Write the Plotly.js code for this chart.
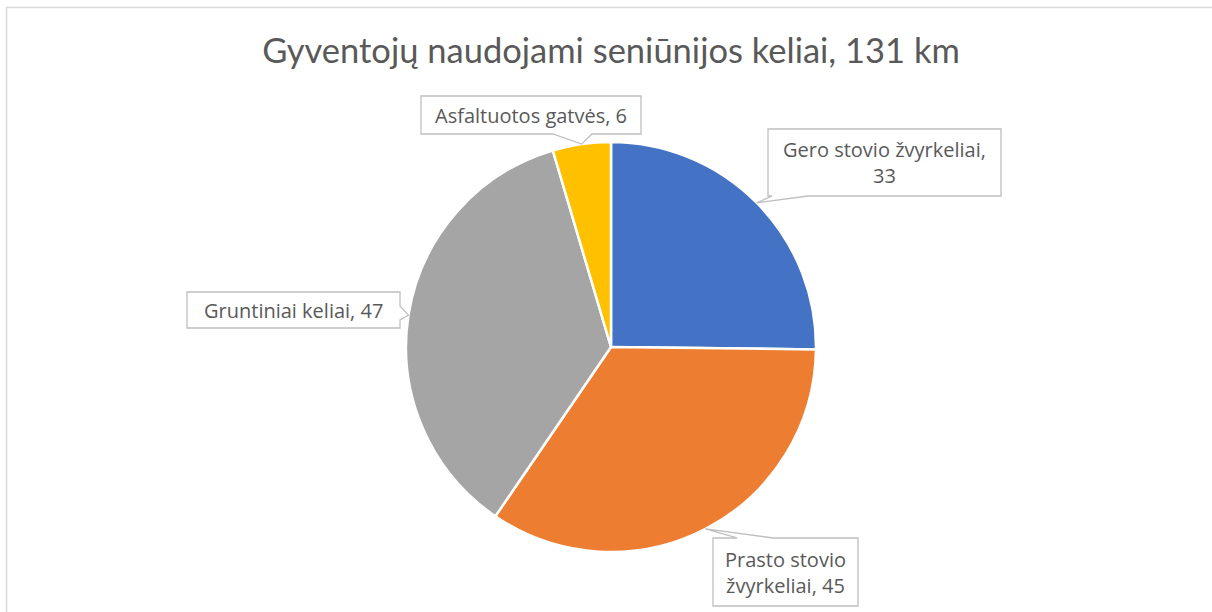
<!DOCTYPE html>
<html>
<head>
<meta charset="utf-8">
<script src="https://cdn.plot.ly/plotly-3.0.1.min.js"></script>
<style>html,body{margin:0;padding:0;background:#fff;}#chart{width:1212px;height:612px;}</style>
</head>
<body>
<div id="chart"></div>
<script>
const chartTitle = 'Gyventojų naudojami seniūnijos keliai, 131 km';
const labels = ['Gero stovio žvyrkeliai', 'Prasto stovio žvyrkeliai', 'Gruntiniai keliai', 'Asfaltuotos gatvės'];
const values = [33, 45, 47, 6];
const colors = ['#4472C4', '#ED7D31', '#A5A5A5', '#FFC000'];

const W = 1212, H = 612;
const cx = 611, cy = 347, R = 205;
// callout boxes (pixel layout): box rect, wrap width (chars), side where pointer attaches, base offsets
const callouts = [
  {x0: 768, x1: 1001, y0: 129, y1: 196, wrap: 24, side: 'bottom', b0: 772, b1: 808},
  {x0: 713, x1: 858, y0: 538, y1: 606, wrap: 14, side: 'top', b0: 737, b1: 773},
  {x0: 187, x1: 400, y0: 292, y1: 328, wrap: 40, side: 'right', b0: 306, b1: 320},
  {x0: 421, x1: 641, y0: 96, y1: 134, wrap: 40, side: 'bottom', b0: 553, b1: 592}
];

function px(x) { return x / W; }
function py(y) { return 1 - y / H; }
function wrap(text, n) {
  const words = text.split(' ');
  const lines = []; let cur = '';
  words.forEach(w => {
    if (cur && (cur + ' ' + w).length > n) { lines.push(cur); cur = w; }
    else cur = cur ? cur + ' ' + w : w;
  });
  if (cur) lines.push(cur);
  return lines.join('<br>');
}

const total = values.reduce((a, b) => a + b, 0);
let cum = 0;
const shapes = [{type: 'rect', xref: 'paper', yref: 'paper', x0: px(6.5), x1: px(1230), y0: py(7.5), y1: py(640),
  line: {color: '#D9D9D9', width: 1.5}, fillcolor: 'rgba(0,0,0,0)', layer: 'below'}];
const annotations = [];
values.forEach((v, i) => {
  const mid = (cum + v / 2) / total * 2 * Math.PI; cum += v;
  const tx = cx + R * Math.sin(mid), ty = cy - R * Math.cos(mid);
  const c = callouts[i];
  let path;
  if (c.side === 'bottom') {
    path = `M${c.x0},${c.y0} L${c.x1},${c.y0} L${c.x1},${c.y1} L${c.b1},${c.y1} L${tx},${ty} L${c.b0},${c.y1} L${c.x0},${c.y1} Z`;
  } else if (c.side === 'top') {
    path = `M${c.x0},${c.y0} L${c.b0},${c.y0} L${tx},${ty} L${c.b1},${c.y0} L${c.x1},${c.y0} L${c.x1},${c.y1} L${c.x0},${c.y1} Z`;
  } else {
    path = `M${c.x0},${c.y0} L${c.x1},${c.y0} L${c.x1},${c.b0} L${tx},${ty} L${c.x1},${c.b1} L${c.x1},${c.y1} L${c.x0},${c.y1} Z`;
  }
  // convert pixel path to paper coords
  const p = path.replace(/([ML])([\d.\-]+),([\d.\-]+)/g, (m, k, a, b) => `${k}${px(+a).toFixed(5)},${py(+b).toFixed(5)}`);
  shapes.push({type: 'path', xref: 'paper', yref: 'paper', path: p, fillcolor: '#FFFFFF', line: {color: '#BFBFBF', width: 1.3}, layer: 'above'});
  annotations.push({xref: 'paper', yref: 'paper', x: px((c.x0 + c.x1) / 2), y: py((c.y0 + c.y1) / 2),
    xanchor: 'center', yanchor: 'middle', showarrow: false, align: 'center',
    text: wrap(labels[i] + ', ' + v, c.wrap),
    font: {family: '"Open Sans", sans-serif', size: 20, color: '#595959'}});
});

const data = [{
  type: 'pie', labels: labels, values: values, sort: false, direction: 'clockwise', rotation: 0,
  marker: {colors: colors, line: {color: '#FFFFFF', width: 2.5}},
  textinfo: 'none', hoverinfo: 'label+value', showlegend: false,
  domain: {x: [px(cx - R), px(cx + R)], y: [py(cy + R), py(cy - R)]}
}];

const layout = {
  width: W, height: H, margin: {l: 0, r: 0, t: 0, b: 0},
  paper_bgcolor: '#FFFFFF', showlegend: false,
  title: {text: chartTitle, x: px(611), xanchor: 'center', y: py(51), yanchor: 'middle',
    font: {family: 'Lato, sans-serif', size: 34.5, color: '#595959'}},
  shapes: shapes, annotations: annotations
};
Plotly.newPlot('chart', data, layout, {displayModeBar: false, staticPlot: true});
</script>
</body>
</html>
